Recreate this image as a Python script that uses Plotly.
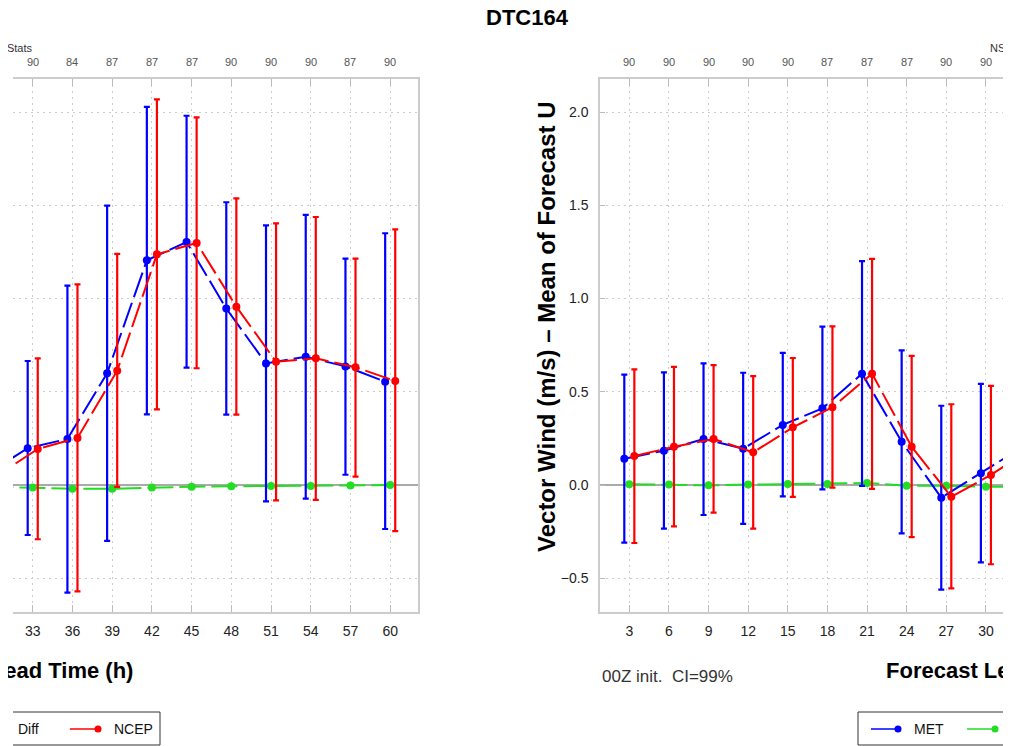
import plotly.graph_objects as go

# ---------------- data ----------------
leads = [3, 6, 9, 12, 15, 18, 21, 24, 27, 30, 33, 36, 39, 42, 45, 48, 51, 54, 57, 60]
nstats = [90, 90, 90, 90, 90, 87, 87, 87, 90, 90, 90, 84, 87, 87, 87, 90, 90, 90, 87, 90]

met_mean = [0.141, 0.184, 0.247, 0.195, 0.322, 0.411, 0.597, 0.232, -0.068, 0.063,
            0.197, 0.247, 0.599, 1.205, 1.303, 0.946, 0.652, 0.688, 0.636, 0.554]
met_hi = [0.592, 0.604, 0.652, 0.602, 0.708, 0.849, 1.200, 0.722, 0.425, 0.542,
          0.665, 1.069, 1.498, 2.028, 1.980, 1.516, 1.392, 1.448, 1.214, 1.350]
met_lo = [-0.309, -0.234, -0.161, -0.209, -0.061, -0.023, -0.005, -0.259, -0.561, -0.415,
          -0.268, -0.577, -0.300, 0.379, 0.629, 0.377, -0.088, -0.073, 0.055, -0.236]

ncep_mean = [0.155, 0.205, 0.247, 0.175, 0.309, 0.417, 0.597, 0.205, -0.063, 0.054,
             0.193, 0.252, 0.613, 1.237, 1.298, 0.956, 0.661, 0.679, 0.631, 0.558]
ncep_hi = [0.620, 0.633, 0.643, 0.584, 0.681, 0.851, 1.212, 0.692, 0.433, 0.531,
           0.679, 1.076, 1.239, 2.068, 1.971, 1.537, 1.403, 1.437, 1.214, 1.371]
ncep_lo = [-0.311, -0.222, -0.148, -0.234, -0.064, -0.014, -0.021, -0.280, -0.554, -0.425,
           -0.291, -0.570, -0.010, 0.406, 0.626, 0.377, -0.082, -0.080, 0.045, -0.247]

diff_mean = [0.004, 0.002, -0.002, 0.002, 0.005, 0.005, 0.011, -0.004, -0.004, -0.009,
             -0.014, -0.020, -0.020, -0.014, -0.009, -0.007, -0.005, -0.005, -0.003, 0.000]

title = "DTC164"
y_title = "Vector Wind (m/s) \u2013 Mean of Forecast U"
x_title = "Forecast Lead Time (h)"
note = "00Z init.\u00a0 CI=99%"

# ---------------- styling ----------------
# page has an 8px body margin; figure fills the rest of the 1011x746 window
M = 8
W, H = 1011 - M, 746 - M
BLUE, RED, GREEN = "#0000FF", "#FF0000", "#22DD22"
FONT = "Liberation Sans, Arial, Helvetica, sans-serif"
OFF = 0.38
DASH = "26px,6px"


def px(x):
    return (x - M) / W


def py(y):
    return 1 - (y - M) / H


fig = go.Figure()

panels = [("x", "y"), ("x2", "y2")]
for xa, ya in panels:
    fig.add_trace(go.Scatter(
        x=leads, y=diff_mean, xaxis=xa, yaxis=ya, mode="lines+markers",
        line=dict(color=GREEN, width=2, dash=DASH),
        marker=dict(color=GREEN, size=8), showlegend=False))
    fig.add_trace(go.Scatter(
        x=[l - OFF for l in leads], y=met_mean, xaxis=xa, yaxis=ya, mode="lines+markers",
        line=dict(color=BLUE, width=2, dash=DASH),
        marker=dict(color=BLUE, size=8),
        error_y=dict(type="data", symmetric=False,
                     array=[h - m for h, m in zip(met_hi, met_mean)],
                     arrayminus=[m - l for m, l in zip(met_mean, met_lo)],
                     color=BLUE, thickness=2.2, width=3),
        showlegend=False))
    fig.add_trace(go.Scatter(
        x=[l + OFF for l in leads], y=ncep_mean, xaxis=xa, yaxis=ya, mode="lines+markers",
        line=dict(color=RED, width=2, dash=DASH),
        marker=dict(color=RED, size=8),
        error_y=dict(type="data", symmetric=False,
                     array=[h - m for h, m in zip(ncep_hi, ncep_mean)],
                     arrayminus=[m - l for m, l in zip(ncep_mean, ncep_lo)],
                     color=RED, thickness=2.2, width=3),
        showlegend=False))

YR = [-0.681, 2.177]
ydom = [py(612), py(79)]
grid = dict(showgrid=True, gridcolor="#cccccc", gridwidth=1, griddash="2px,4px")

xcommon = dict(tickvals=leads, ticks="inside", ticklen=7, tickcolor="#bbbbbb",
               showline=True, linecolor="#cccccc", linewidth=1.5, mirror="ticks",
               zeroline=False, ticklabelstandoff=5,
               tickfont=dict(family=FONT, size=14, color="#222"), **grid)

fig.update_layout(
    width=W, height=H, margin=dict(l=0, r=0, t=0, b=0),
    paper_bgcolor="white", plot_bgcolor="white",
    xaxis=dict(domain=[px(13), px(418)], range=[31.51, 62.1], anchor="y", **xcommon),
    xaxis2=dict(domain=[px(600), 1.0], range=[0.78, 31.9], anchor="y2", **xcommon),
    yaxis=dict(domain=ydom, range=YR, anchor="x", side="right", showticklabels=False,
               showline=True, linecolor="#cccccc", linewidth=1.5, ticks="",
               tickvals=[-0.5, 0, 0.5, 1, 1.5, 2],
               zeroline=True, zerolinecolor="#aaaaaa", zerolinewidth=1.5, **grid),
    yaxis2=dict(domain=ydom, range=YR, anchor="x2", side="left",
                showline=True, linecolor="#cccccc", linewidth=1.5,
                ticks="inside", ticklen=5, tickcolor="#bbbbbb", ticklabelstandoff=7,
                tickvals=[-0.5, 0, 0.5, 1, 1.5, 2], tickformat=".1f",
                tickfont=dict(family=FONT, size=14, color="#222"),
                zeroline=True, zerolinecolor="#aaaaaa", zerolinewidth=1.5, **grid),
)

ann = []
# title
ann.append(dict(text="<b>%s</b>" % title, x=px(527), y=py(17), xref="paper", yref="paper",
                showarrow=False, font=dict(family=FONT, size=22, color="black"),
                xanchor="center", yanchor="middle"))
# counts rows
for xa, lo_, hi_ in [("x", 31.51, 62.1), ("x2", 0.78, 31.9)]:
    for l, n in zip(leads, nstats):
        if lo_ < l < hi_:
            ann.append(dict(text=str(n), x=l, y=py(62), xref=xa, yref="paper",
                            showarrow=False, font=dict(family=FONT, size=11, color="#555"),
                            xanchor="center", yanchor="middle"))
# NStats labels
for xpx in [-3, 988]:
    ann.append(dict(text="NStats", x=px(xpx), y=py(48), xref="paper", yref="paper",
                    showarrow=False, font=dict(family=FONT, size=11, color="#333"),
                    xanchor="left", yanchor="middle"))
# x titles
for xpx in [12.5, 1005.5]:
    ann.append(dict(text="<b>%s</b>" % x_title, x=px(xpx), y=py(670), xref="paper", yref="paper",
                    showarrow=False, font=dict(family=FONT, size=22, color="black"),
                    xanchor="center", yanchor="middle"))
# y title
ann.append(dict(text="<b>%s</b>" % y_title, x=px(546), y=py(327), xref="paper", yref="paper",
                showarrow=False, textangle=-90, font=dict(family=FONT, size=24, color="black"),
                xanchor="center", yanchor="middle"))
# note
ann.append(dict(text=note, x=px(600), y=py(676), xref="paper", yref="paper",
                showarrow=False, font=dict(family=FONT, size=17, color="#333"),
                xanchor="left", yanchor="middle"))

# legends (drawn as decorations)
shapes = []


def seg(x0, y0, x1, y1, color="#333", width=1):
    shapes.append(dict(type="line", xref="paper", yref="paper",
                       x0=px(x0), y0=py(y0), x1=px(x1), y1=py(y1),
                       line=dict(color=color, width=width)))


def dot(cx, cy, color, r=3.5):
    shapes.append(dict(type="circle", xref="paper", yref="paper",
                       x0=px(cx - r), y0=py(cy + r), x1=px(cx + r), y1=py(cy - r),
                       fillcolor=color, line=dict(color=color, width=0)))


# left legend box (cropped)
seg(13, 712, 160, 712)
seg(13, 745, 160, 745)
seg(160, 712, 160, 745)
seg(70, 729, 98, 729, RED, 1.5)
dot(98, 729, RED)
ann.append(dict(text="Diff", x=px(16), y=py(729), xref="paper", yref="paper", showarrow=False,
                font=dict(family=FONT, size=14, color="#111"), xanchor="left", yanchor="middle"))
ann.append(dict(text="NCEP", x=px(112), y=py(729), xref="paper", yref="paper", showarrow=False,
                font=dict(family=FONT, size=14, color="#111"), xanchor="left", yanchor="middle"))
# right legend box (cropped)
seg(858, 712, 1011, 712)
seg(858, 745, 1011, 745)
seg(858, 712, 858, 745)
seg(871, 729, 898, 729, BLUE, 1.5)
dot(898, 729, BLUE)
seg(967, 729, 995, 729, GREEN, 1.5)
dot(995, 729, GREEN)
ann.append(dict(text="MET", x=px(912), y=py(729), xref="paper", yref="paper", showarrow=False,
                font=dict(family=FONT, size=14, color="#111"), xanchor="left", yanchor="middle"))

fig.update_layout(annotations=ann, shapes=shapes)
fig.write_html("out.html")
